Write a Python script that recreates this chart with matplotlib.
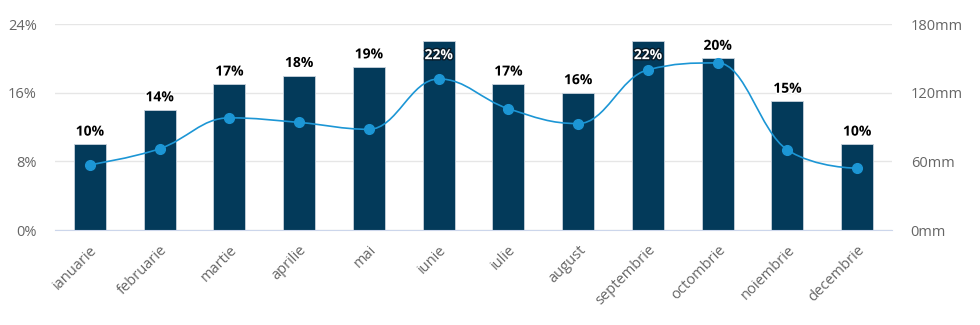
import numpy as np
import matplotlib
matplotlib.use('Agg')
import matplotlib.pyplot as plt
import matplotlib.patheffects as pe
from matplotlib.path import Path
from matplotlib.patches import PathPatch

plt.rcParams['font.family'] = ['Open Sans', 'DejaVu Sans']

months = ['ianuarie', 'februarie', 'martie', 'aprilie', 'mai', 'iunie',
          'iulie', 'august', 'septembrie', 'octombrie', 'noiembrie', 'decembrie']
humidity = [10, 14, 17, 18, 19, 22, 17, 16, 22, 20, 15, 10]
rain_mm = [57, 71, 98, 94, 88, 132, 106, 93, 140, 146, 70, 54]
left_ticks = [0, 8, 16, 24]
right_ticks = [0, 60, 120, 180]

bar_col = '#033a5a'
line_col = '#1c96d5'
grey = '#666666'


def spline_path(xs, ys, smoothing=1.5):
    # bezier spline like highcharts
    n = len(xs)
    lc = [(xs[i], ys[i]) for i in range(n)]
    rc = [(xs[i], ys[i]) for i in range(n)]
    d = smoothing + 1
    for i in range(1, n - 1):
        x, y = xs[i], ys[i]
        lx = (smoothing * x + xs[i - 1]) / d
        ly = (smoothing * y + ys[i - 1]) / d
        rx = (smoothing * x + xs[i + 1]) / d
        ry = (smoothing * y + ys[i + 1]) / d
        if rx != lx:
            corr = (ry - ly) * (rx - x) / (rx - lx) + y - ry
            ly += corr
            ry += corr
        if ly > max(ys[i - 1], y):
            ly = max(ys[i - 1], y)
            ry = 2 * y - ly
        elif ly < min(ys[i - 1], y):
            ly = min(ys[i - 1], y)
            ry = 2 * y - ly
        if ry > max(ys[i + 1], y):
            ry = max(ys[i + 1], y)
            ly = 2 * y - ry
        elif ry < min(ys[i + 1], y):
            ry = min(ys[i + 1], y)
            ly = 2 * y - ry
        lc[i] = (lx, ly)
        rc[i] = (rx, ry)
    verts = [(xs[0], ys[0])]
    codes = [Path.MOVETO]
    for i in range(1, n):
        verts += [rc[i - 1], lc[i], (xs[i], ys[i])]
        codes += [Path.CURVE4] * 3
    return Path(verts, codes)


fig = plt.figure(figsize=(9.8, 3.25), dpi=100)
ax = fig.add_axes([0.0561, 0.2923, 0.8541, 0.6338])
x = np.arange(len(months))

ax.bar(x, humidity, width=0.46, color=bar_col, edgecolor='#c8d2dc', linewidth=0.6, zorder=2)
ax.set_xlim(-0.5, len(months) - 0.5)
ax.set_ylim(0, 24)
ax.set_yticks(left_ticks)
ax.set_yticklabels([f'{t}%' for t in left_ticks])
ax.set_xticks(x)
ax.set_xticklabels(months, rotation=45, ha='right', rotation_mode='anchor')
ax.tick_params(axis='x', length=0, pad=9, labelsize=10.5, labelcolor=grey)
ax.tick_params(axis='y', length=0, pad=13, labelsize=10.5, labelcolor=grey)
ax.grid(axis='y', color='#e6e6e6', linewidth=1, zorder=0)
for s in ['top', 'right', 'left']:
    ax.spines[s].set_visible(False)
ax.spines['bottom'].set_color('#ccd6eb')
ax.spines['bottom'].set_zorder(3)

for i, v in enumerate(humidity):
    if v >= 22:
        ax.annotate(f'{v}%', (i, v), xytext=(0, -5), textcoords='offset points',
                    ha='center', va='top', fontsize=10, fontweight='bold', color='white',
                    path_effects=[pe.withStroke(linewidth=2, foreground='#0a1a26')], zorder=5)
    else:
        ax.annotate(f'{v}%', (i, v), xytext=(0, 4), textcoords='offset points',
                    ha='center', va='bottom', fontsize=10, fontweight='bold', color='black',
                    path_effects=[pe.withStroke(linewidth=2, foreground='white')], zorder=5)

ax2 = ax.twinx()
ax2.set_ylim(0, 180)
ax2.set_yticks(right_ticks)
ax2.set_yticklabels([f'{t}mm' for t in right_ticks])
ax2.tick_params(axis='y', length=0, pad=13.5, labelsize=10.5, labelcolor=grey)
for s in ax2.spines.values():
    s.set_visible(False)

ax2.add_patch(PathPatch(spline_path(list(x), rain_mm), facecolor='none',
                        edgecolor=line_col, linewidth=1.2, zorder=3))
ax2.plot(x, rain_mm, 'o', color=line_col, markersize=7, zorder=4)

fig.savefig('out.png', dpi=100)
